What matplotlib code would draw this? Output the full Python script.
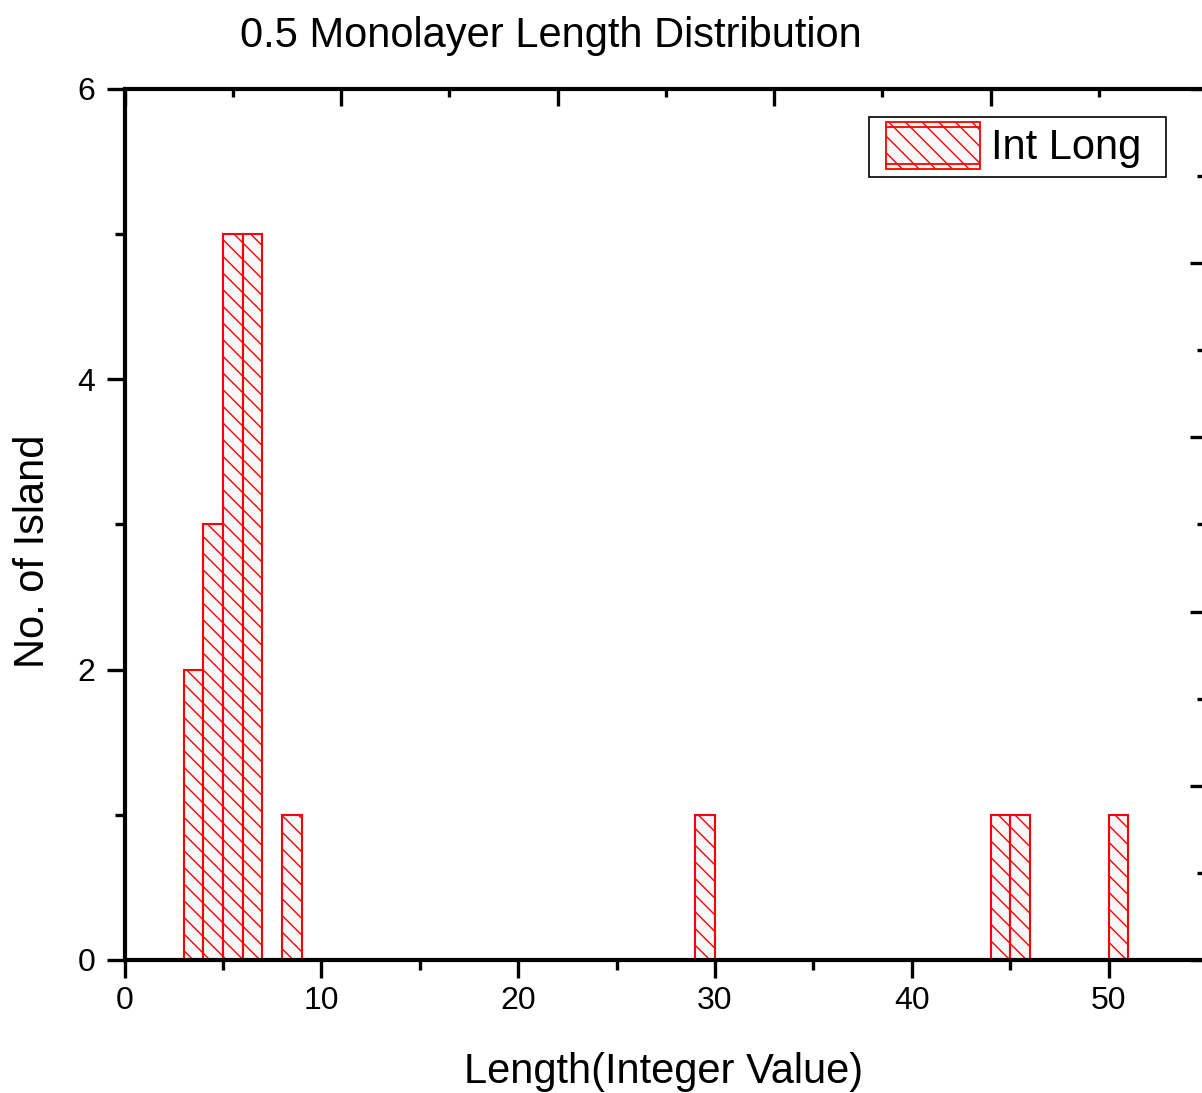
"""0.5 monolayer island length histogram, Origin-style look.
Writes out.png (1202x1093)."""
import matplotlib
matplotlib.use("Agg")
import matplotlib.pyplot as plt
from matplotlib.lines import Line2D
from matplotlib.patches import Rectangle
from matplotlib.ticker import MultipleLocator

plt.rcParams.update({"font.family": ["Liberation Sans", "DejaVu Sans"],
                     "hatch.linewidth": 1.0,
                     "xtick.labelsize": 23, "ytick.labelsize": 23})

# histogram bins (left edge, width 1) and counts
BIN_LEFT = [3, 4, 5, 6, 8, 29, 44, 45, 50]
COUNTS = [2, 3, 5, 5, 1, 1, 1, 1, 1]
X_MAJOR = [0, 10, 20, 30, 40, 50]
Y_MAJOR = [0, 2, 4, 6]
TITLE = "0.5 Monolayer Length Distribution"
XLABEL = "Length(Integer Value)"
YLABEL = "No. of Island"
SERIES = "Int Long"

RED = "#FF0000"
FILL = "#F6F8FA"
HATCH = "\\\\"


class HatchBox:
    """legend key: hatched box with doubled top/bottom rules (Origin style)"""
    def legend_artist(self, legend, orig_handle, fontsize, handlebox):
        x0, y0 = -handlebox.xdescent, -handlebox.ydescent
        w, h = handlebox.width, handlebox.height
        tr = handlebox.get_transform()
        rect = Rectangle((x0, y0), w, h, facecolor=FILL, edgecolor=RED,
                         hatch=HATCH, lw=1.3, transform=tr)
        handlebox.add_artist(rect)
        for f in (0.1, 0.9):
            handlebox.add_artist(Line2D([x0, x0 + w], [y0 + f * h] * 2,
                                        color=RED, lw=1.3, transform=tr))
        return rect


fig = plt.figure(figsize=(12.02, 10.93), dpi=100)
ax = fig.add_axes([0.1036, 0.1217, 0.9006, 0.7969])

ax.bar(BIN_LEFT, COUNTS, width=1, align="edge", facecolor=FILL,
       edgecolor=RED, hatch=HATCH, lw=1.5, zorder=2)

ax.set_xlim(0, 55)
ax.set_ylim(0, 6)
ax.set_xticks(X_MAJOR)
ax.xaxis.set_minor_locator(MultipleLocator(5))
ax.set_yticks(Y_MAJOR)
ax.yaxis.set_minor_locator(MultipleLocator(1))
for s in ax.spines.values():
    s.set_linewidth(3)

# unlinked top / right axes, ticks inward, no labels
axt = ax.twiny()
axt.set_xlim(0, 1)
axt.xaxis.set_major_locator(MultipleLocator(0.2))
axt.xaxis.set_minor_locator(MultipleLocator(0.1))
axt.tick_params(axis="x", which="both", direction="in", width=2.4,
                labeltop=False, top=True, bottom=False)
axt.tick_params(axis="x", which="major", length=12)
axt.tick_params(axis="x", which="minor", length=6)

axr = ax.twinx()
axr.set_ylim(0, 1)
axr.yaxis.set_major_locator(MultipleLocator(0.2))
axr.yaxis.set_minor_locator(MultipleLocator(0.1))
axr.tick_params(axis="y", which="both", direction="in", width=2.4,
                labelright=False, right=True, left=False)
axr.tick_params(axis="y", which="major", length=12)
axr.tick_params(axis="y", which="minor", length=7)
for a in (axt, axr):
    for s in a.spines.values():
        s.set_visible(False)

ax.tick_params(which="both", direction="out", width=2.4, labelsize=23,
               top=False, right=False)
ax.tick_params(which="major", length=13)
ax.tick_params(which="minor", length=7)
ax.tick_params(axis="x", pad=6)
ax.tick_params(axis="y", pad=8)

ax.text(0.394, 1.048, TITLE, transform=ax.transAxes, ha="center",
        va="baseline", fontsize=30)
ax.set_xlabel(XLABEL, fontsize=30)
ax.xaxis.set_label_coords(0.498, -0.106)
ax.set_ylabel(YLABEL, fontsize=30)
ax.yaxis.set_label_coords(-0.066, 0.469)

# legend: key + text placed frameless, Origin-like box drawn around them
W, H = 1202, 1093
proxy = Rectangle((0, 0), 1, 1)
leg = axr.legend([proxy], [SERIES], handler_map={proxy: HatchBox()},
                 loc="upper left", bbox_to_anchor=(886 / W, 1 - 122 / H),
                 bbox_transform=fig.transFigure, borderaxespad=0,
                 borderpad=0, fontsize=30, handlelength=2.25,
                 handleheight=1.36, handletextpad=0.27, frameon=False)
fig.patches.append(Rectangle((869 / W, 1 - 177 / H), 297 / W, 60 / H,
                             transform=fig.transFigure, fill=False,
                             edgecolor="black", lw=1.2, zorder=5))

fig.savefig("out.png", dpi=100)
